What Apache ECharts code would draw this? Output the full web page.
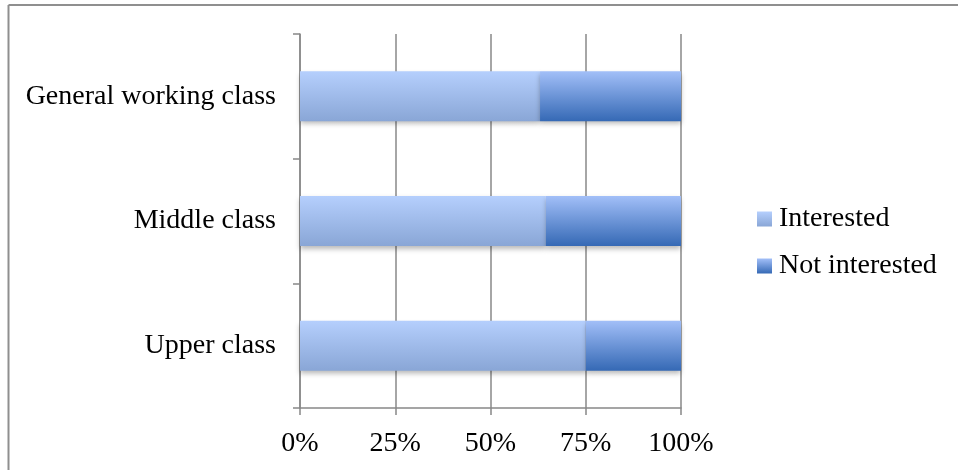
<!DOCTYPE html>
<html>
<head>
<meta charset="utf-8">
<script src="https://cdn.jsdelivr.net/npm/echarts@6/dist/echarts.min.js"></script>
<style>
html,body{margin:0;padding:0;background:#fff;}
#chart{width:958px;height:470px;}
</style>
</head>
<body>
<div id="chart"></div>
<script>
const categories = ['Upper class', 'Middle class', 'General working class'];
const interested = [75, 64.5, 63];
const notInterested = [25, 35.5, 37];
const xTicks = [0, 25, 50, 75, 100];
const seriesNames = ['Interested', 'Not interested'];

const FONT = '"Liberation Serif", "DejaVu Serif", serif';
const grad = (top, bottom) => new echarts.graphic.LinearGradient(0, 0, 0, 1, [
  { offset: 0, color: top }, { offset: 1, color: bottom }
]);

const chart = echarts.init(document.getElementById('chart'), null, { renderer: 'canvas' });
chart.setOption({
  animation: false,
  backgroundColor: '#ffffff',
  textStyle: { fontFamily: FONT },
  grid: { left: 300, right: 277, top: 34, bottom: 62, containLabel: false },
  legend: {
    orient: 'vertical',
    left: 752,
    top: 200,
    itemWidth: 15,
    itemHeight: 15,
    itemGap: 19,
    data: seriesNames,
    icon: 'rect',
    textStyle: { fontFamily: FONT, fontSize: 28, color: '#000', padding: [0, 0, 0, 2] }
  },
  xAxis: {
    type: 'value',
    min: 0,
    max: 100,
    interval: 25,
    axisLine: { show: true, lineStyle: { color: '#888', width: 1.5 } },
    axisTick: { show: true, length: 7, lineStyle: { color: '#888', width: 1.5 } },
    splitLine: { show: true, lineStyle: { color: '#888', width: 1.5 } },
    axisLabel: {
      margin: 22,
      fontFamily: FONT,
      fontSize: 28,
      color: '#000',
      formatter: v => (xTicks.indexOf(v) >= 0 ? v + '%' : '')
    }
  },
  yAxis: {
    type: 'category',
    data: categories,
    axisLine: { show: true, lineStyle: { color: '#888', width: 1.5 } },
    axisTick: { show: true, length: 7, inside: false, lineStyle: { color: '#888', width: 1.5 } },
    axisLabel: { margin: 24, fontFamily: FONT, fontSize: 28, color: '#000' },
    splitLine: { show: false }
  },
  series: [
    {
      name: seriesNames[0],
      type: 'bar',
      stack: 'total',
      barWidth: 50,
      data: interested,
      itemStyle: {
        color: grad('#b5cffd', '#89a6d6'),
        shadowColor: 'rgba(0,0,0,0.28)',
        shadowBlur: 5,
        shadowOffsetY: 3
      }
    },
    {
      name: seriesNames[1],
      type: 'bar',
      stack: 'total',
      barWidth: 50,
      data: notInterested,
      itemStyle: {
        color: grad('#a2bff8', '#3569b5'),
        shadowColor: 'rgba(0,0,0,0.28)',
        shadowBlur: 5,
        shadowOffsetY: 3
      }
    }
  ],
  graphic: [
    { type: 'line', shape: { x1: 8.5, y1: 5, x2: 958, y2: 5 }, style: { stroke: '#8f8f8f', lineWidth: 2 }, z: 100 },
    { type: 'line', shape: { x1: 8.5, y1: 5, x2: 8.5, y2: 470 }, style: { stroke: '#8f8f8f', lineWidth: 2 }, z: 100 }
  ]
});
</script>
</body>
</html>
